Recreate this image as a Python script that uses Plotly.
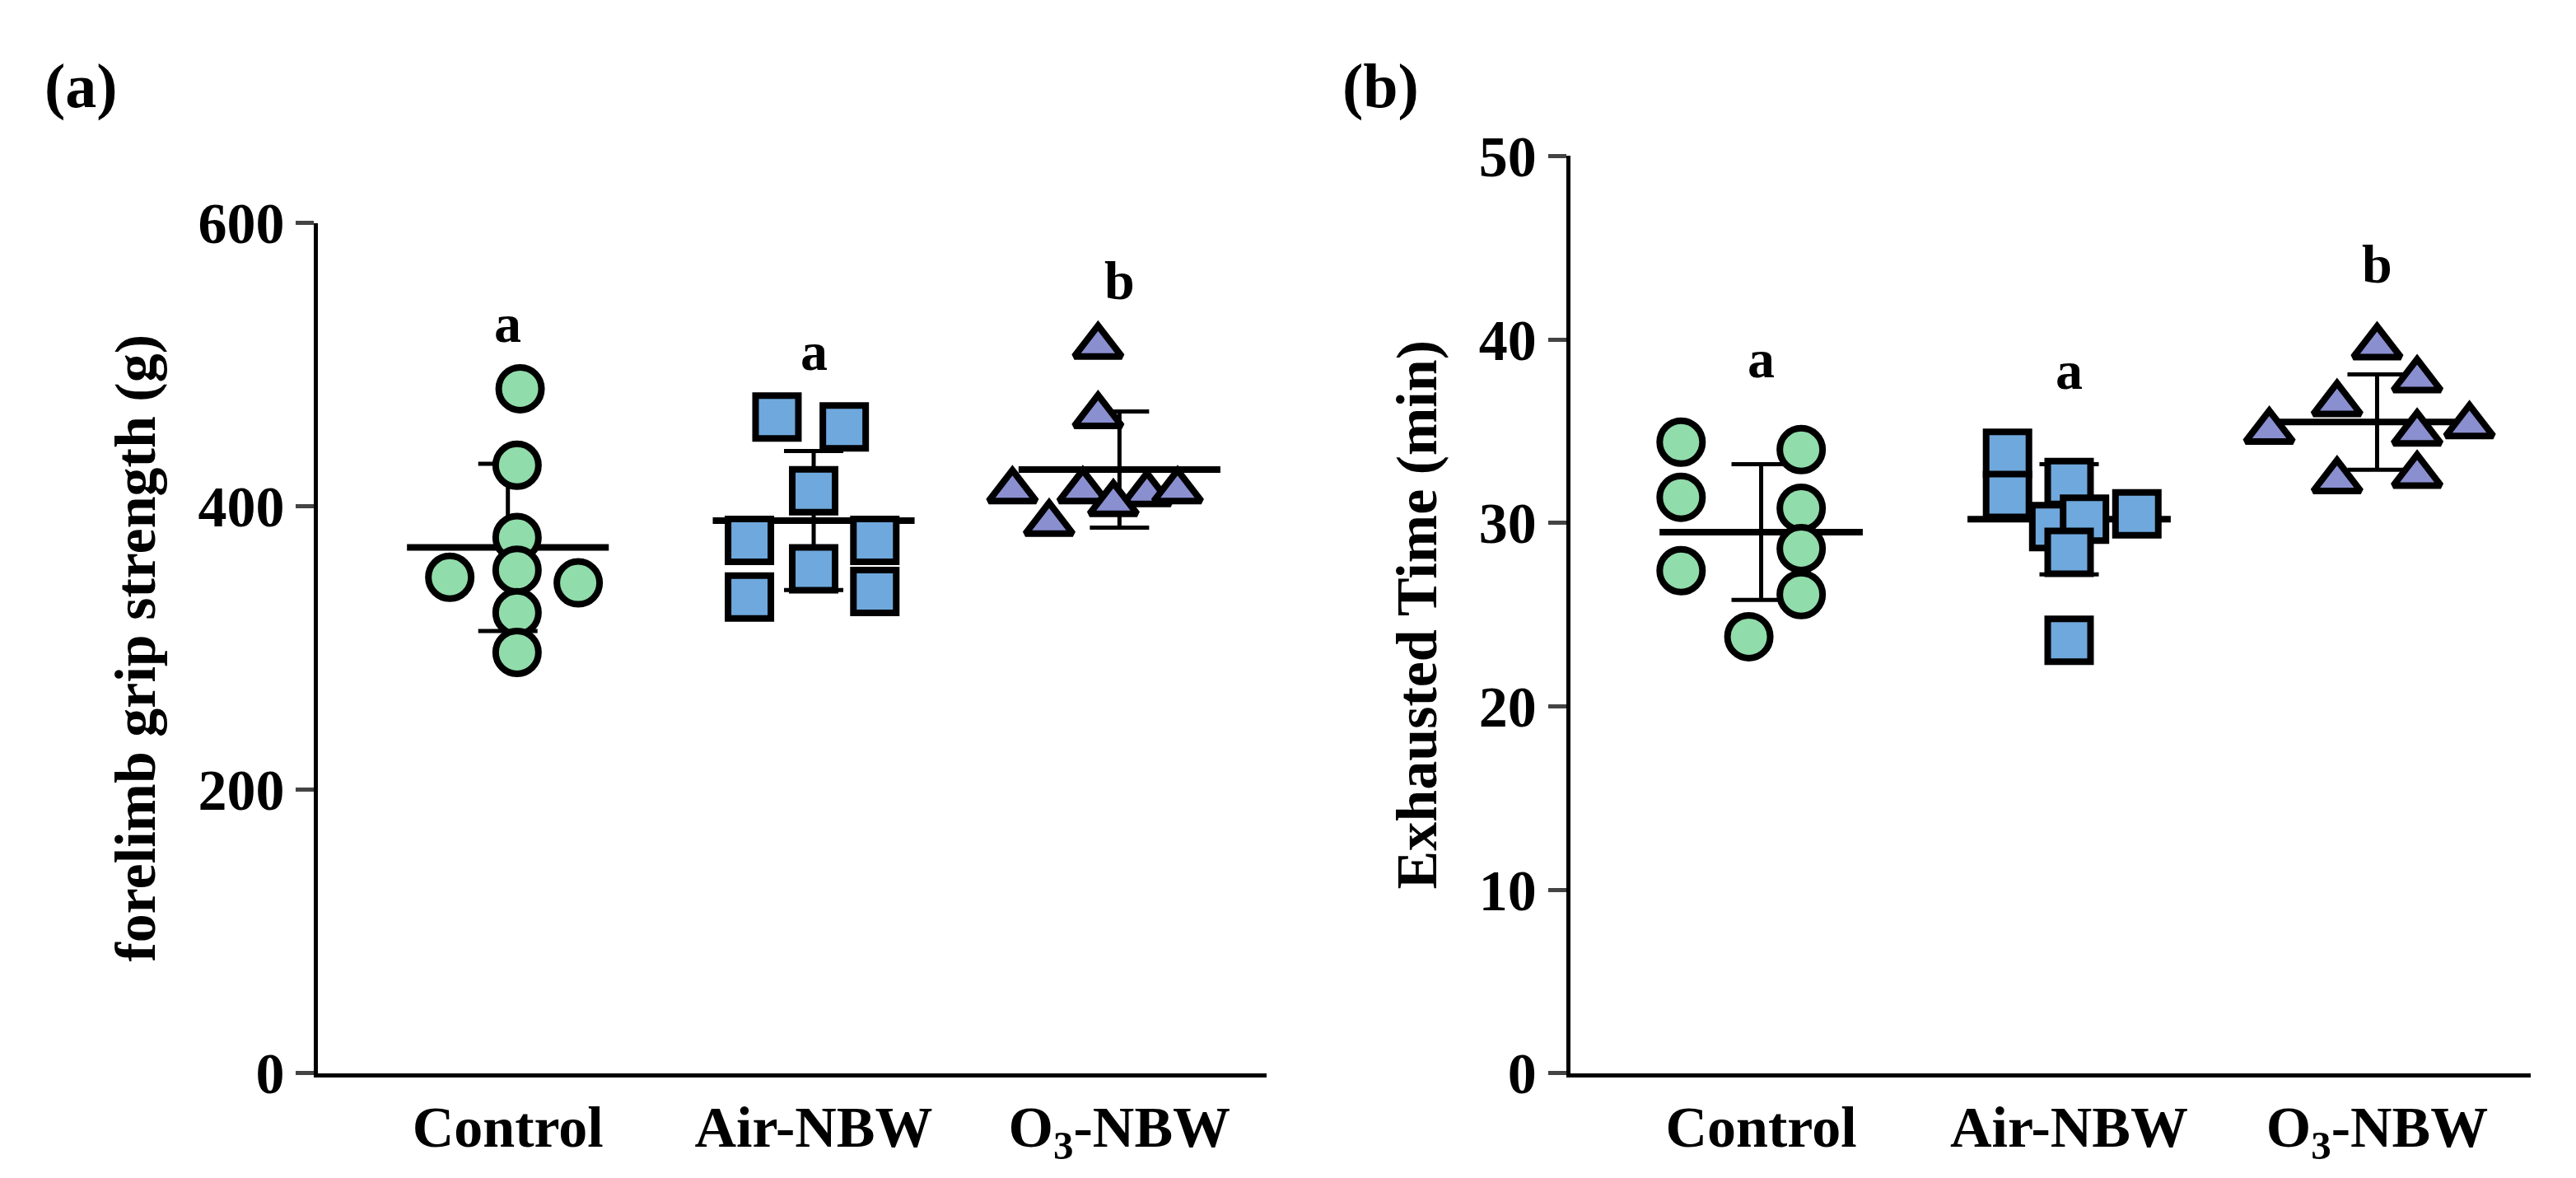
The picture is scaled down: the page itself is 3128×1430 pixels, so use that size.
import plotly.graph_objects as go

GROUPS = ["Control", "Air-NBW", "O<sub>3</sub>-NBW"]
COLORS = ["#90dcaa", "#6fa8dc", "#8a8fd0"]
SYMBOLS = ["circle", "square", "triangle-up"]
LETTERS = ["a", "a", "b"]

# horizontal spread of the points inside each group (category units)
grip_dx = [
    [0.04, 0.03, 0.03, -0.19, 0.23, 0.03, 0.03, 0.03],
    [-0.12, 0.10, 0.0, -0.21, 0.20, 0.0, -0.21, 0.20],
    [-0.07, -0.07, -0.35, -0.12, 0.09, 0.19, -0.23, -0.02],
]
grip_vals = [
    [483, 429, 378, 350, 346, 355, 325, 297],
    [463, 456, 411, 376, 376, 356, 336, 340],
    [513, 464, 411, 411, 409, 411, 388, 402],
]
grip_mean = [371, 390, 426]
grip_sd = [59, 49, 41]

time_dx = [
    [-0.26, 0.13, -0.26, 0.13, -0.26, 0.13, 0.13, -0.04],
    [-0.2, -0.2, 0.0, -0.05, 0.05, 0.0, 0.22, -0.0],
    [0.0, 0.13, -0.13, -0.35, 0.3, 0.13, 0.13, -0.13],
]
time_vals = [
    [34.4, 34.0, 31.4, 30.8, 27.4, 28.6, 26.1, 23.8],
    [33.8, 31.5, 32.2, 29.8, 30.2, 28.4, 30.5, 23.6],
    [39.6, 37.8, 36.5, 35.0, 35.3, 34.9, 32.6, 32.3],
]
time_mean = [29.5, 30.2, 35.5]
time_sd = [3.7, 3.0, 2.6]

FONT = "Liberation Serif"

fig = go.Figure()


def add_panel(vals, dx, means, sds, xa, ya, letter_off):
    for i in range(3):
        fig.add_trace(go.Scatter(
            x=[i - 0.33, i + 0.33], y=[means[i], means[i]], mode="lines",
            line=dict(color="black", width=8), xaxis=xa, yaxis=ya,
            showlegend=False, hoverinfo="skip"))
        fig.add_trace(go.Scatter(
            x=[i], y=[means[i]], mode="markers", marker=dict(size=1, color="black"),
            error_y=dict(type="data", array=[sds[i]], color="black", thickness=5, width=36),
            xaxis=xa, yaxis=ya, showlegend=False, hoverinfo="skip"))
        fig.add_trace(go.Scatter(
            x=[i + d for d in dx[i]], y=vals[i], mode="markers",
            marker=dict(symbol=SYMBOLS[i], size=52 if i < 2 else 50, color=COLORS[i],
                        line=dict(color="black", width=8)),
            xaxis=xa, yaxis=ya, showlegend=False))
        fig.add_annotation(x=i, y=max(vals[i]) + letter_off, text="<b>%s</b>" % LETTERS[i],
                           xref=xa, yref=ya, showarrow=False, yanchor="bottom",
                           font=dict(family=FONT, size=66, color="black"))


add_panel(grip_vals, grip_dx, grip_mean, grip_sd, "x", "y", 24)
add_panel(time_vals, time_dx, time_mean, time_sd, "x2", "y2", 2.8)

axis_common = dict(showline=True, linecolor="black", linewidth=5, showgrid=False,
                   zeroline=False, tickfont=dict(family=FONT, size=70, color="black"))
xcommon = dict(axis_common, tickvals=[0, 1, 2], ticktext=["<b>%s</b>" % g for g in GROUPS],
               ticks="", fixedrange=True)
ycommon = dict(axis_common, ticks="outside", ticklen=22, tickwidth=5)

fig.update_layout(
    width=3128, height=1430, plot_bgcolor="white", paper_bgcolor="white",
    margin=dict(l=0, r=0, t=0, b=0),
    xaxis=dict(xcommon, domain=[0.121, 0.489], range=[-0.62, 2.48]),
    yaxis=dict(ycommon, domain=[0.071, 0.834], range=[0, 600], tickvals=[0, 200, 400, 600],
               ticktext=["<b>%d</b>" % v for v in [0, 200, 400, 600]],
               title=dict(text="<b>forelimb grip strength (g)</b>",
                          font=dict(family=FONT, size=70, color="black"), standoff=30)),
    xaxis2=dict(xcommon, domain=[0.607, 0.980], range=[-0.62, 2.5], anchor="y2"),
    yaxis2=dict(ycommon, domain=[0.071, 0.894], range=[0, 50], anchor="x2",
                tickvals=[0, 10, 20, 30, 40, 50],
                ticktext=["<b>%d</b>" % v for v in [0, 10, 20, 30, 40, 50]],
                title=dict(text="<b>Exhausted Time (min)</b>",
                           font=dict(family=FONT, size=70, color="black"), standoff=30)),
)
fig.add_annotation(x=0.014, y=0.99, xref="paper", yref="paper", text="<b>(a)</b>",
                   showarrow=False, xanchor="left", yanchor="top",
                   font=dict(family=FONT, size=76, color="black"))
fig.add_annotation(x=0.518, y=0.99, xref="paper", yref="paper", text="<b>(b)</b>",
                   showarrow=False, xanchor="left", yanchor="top",
                   font=dict(family=FONT, size=76, color="black"))

fig.write_html("out.html")
